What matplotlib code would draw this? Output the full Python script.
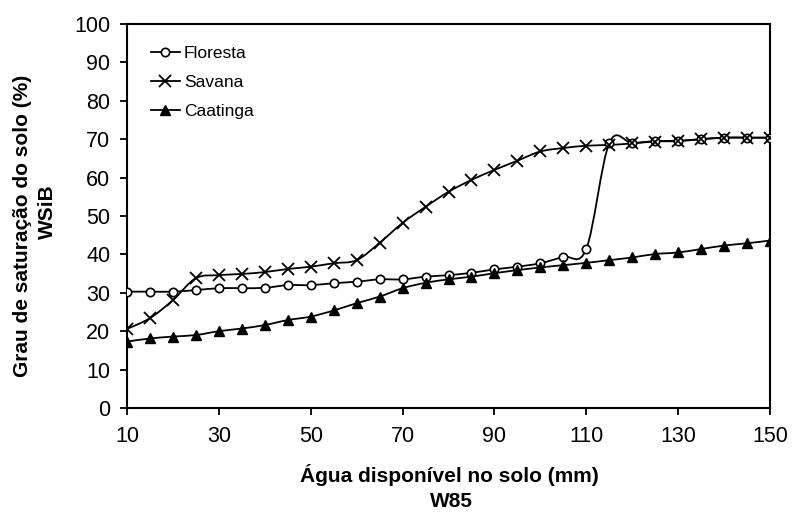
import matplotlib
matplotlib.use("Agg")
import matplotlib.pyplot as plt
from matplotlib.path import Path
from matplotlib.patches import PathPatch
from matplotlib.lines import Line2D

plt.rcParams['font.family'] = ['Liberation Sans', 'DejaVu Sans']

agua = list(range(10, 155, 5))

floresta = [30.3, 30.3, 30.3, 30.7, 31.2, 31.2, 31.3, 32.0, 32.0, 32.5,
            32.9, 33.5, 33.5, 34.2, 34.6, 35.2, 36.1, 36.8, 37.7, 39.4,
            41.4, 69.0, 69.0, 69.5, 69.6, 70.0, 70.4, 70.4, 70.4]
savana = [20.6, 23.4, 28.1, 33.8, 34.6, 34.9, 35.4, 36.2, 36.8, 37.7,
          38.5, 43.0, 48.2, 52.4, 56.3, 59.4, 62.0, 64.4, 66.8, 67.7,
          68.3, 68.5, 68.9, 69.4, 69.5, 70.0, 70.4, 70.4, 70.4]
caatinga = [17.3, 18.1, 18.6, 19.0, 20.0, 20.7, 21.6, 22.9, 23.8, 25.4,
            27.3, 29.0, 31.2, 32.6, 33.5, 34.2, 35.1, 35.9, 36.6, 37.2,
            37.8, 38.5, 39.2, 40.1, 40.5, 41.4, 42.3, 42.9, 43.6]

xticks = [10, 30, 50, 70, 90, 110, 130, 150]
yticks = list(range(0, 101, 10))


def smooth_path(xs, ys):
    """Cubic Bezier path through every point (cardinal spline tangents)."""
    pts = list(zip(xs, ys))
    n = len(pts)
    verts = [pts[0]]
    codes = [Path.MOVETO]
    for i in range(n - 1):
        p0 = pts[max(i - 1, 0)]
        p1 = pts[i]
        p2 = pts[i + 1]
        p3 = pts[min(i + 2, n - 1)]
        c1 = (p1[0] + (p2[0] - p0[0]) / 6, p1[1] + (p2[1] - p0[1]) / 6)
        c2 = (p2[0] - (p3[0] - p1[0]) / 6, p2[1] - (p3[1] - p1[1]) / 6)
        verts += [c1, c2, p2]
        codes += [Path.CURVE4] * 3
    return Path(verts, codes)


W, H = 793, 515
fig = plt.figure(figsize=(W / 100, H / 100), dpi=100)
ax = fig.add_axes([127 / W, 1 - 408 / H, (770 - 127) / W, (408 - 24) / H])

lw = 1.3
styles = [
    ('Floresta', floresta, dict(marker='o', ms=6, mfc='white', mec='black', mew=1.2)),
    ('Savana', savana, dict(marker='x', ms=8, mec='black', mew=1.3)),
    ('Caatinga', caatinga, dict(marker='^', ms=7.5, mfc='black', mec='black')),
]

handles = []
for name, vals, mk in styles:
    ax.add_patch(PathPatch(smooth_path(agua, vals), fill=False,
                           edgecolor='black', lw=lw, zorder=2))
    ax.plot(agua, vals, ls='none', zorder=3, **mk)
    handles.append(Line2D([], [], color='black', lw=lw, label=name, **mk))

ax.set_xlim(10, 150)
ax.set_ylim(0, 100)
ax.set_xticks(xticks)
ax.set_yticks(yticks)
ax.tick_params(direction='out', length=5, width=1.3, labelsize=15.5)
ax.tick_params(axis='x', pad=8)
ax.tick_params(axis='y', pad=7)
for s in ax.spines.values():
    s.set_linewidth(1.5)

# axis titles, each on two lines
fig.text(449 / W, 1 - 482 / H, 'Água disponível no solo (mm)', fontsize=15,
         fontweight='bold', ha='center', va='baseline')
fig.text(451 / W, 1 - 507 / H, 'W85', fontsize=15,
         fontweight='bold', ha='center', va='baseline')
fig.text(23 / W, 1 - 226 / H, 'Grau de saturação do solo (%)', fontsize=15,
         fontweight='bold', ha='center', va='center', rotation=90)
fig.text(47 / W, 1 - 212 / H, 'WSiB', fontsize=15,
         fontweight='bold', ha='center', va='center', rotation=90)

ax.legend(handles=handles, loc='upper left', frameon=False, fontsize=12.5,
          bbox_to_anchor=(0.018, 0.975), handlelength=1.7,
          handletextpad=0.2, labelspacing=0.8, borderaxespad=0.3)

fig.savefig('out.png', dpi=100)
